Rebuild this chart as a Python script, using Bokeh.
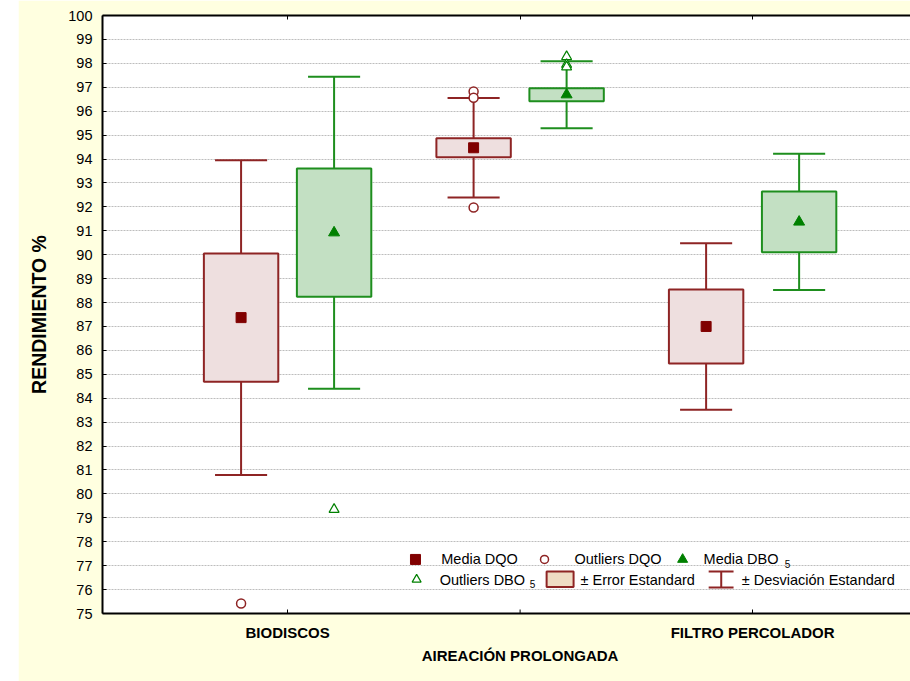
from bokeh.plotting import figure
from bokeh.models import ColumnDataSource, LinearAxis, FixedTicker, Range1d
from bokeh.core.properties import value
from bokeh.embed import file_html
from bokeh.resources import INLINE

# ---- data -------------------------------------------------------------
categories = ["BIODISCOS", "AIREACIÓN PROLONGADA", "FILTRO PERCOLADOR"]

dqo_mean = [87.37, 94.47, 87.00]
dqo_se = [2.68, 0.40, 1.55]
dqo_sd = [6.58, 2.08, 3.48]

dbo_mean = [90.92, 96.69, 91.37]
dbo_se = [2.68, 0.27, 1.27]
dbo_sd = [6.52, 1.40, 2.85]

dqo_outlier_cat = [0, 1, 1, 1]
dqo_outlier_val = [75.42, 96.82, 96.56, 91.97]
dbo_outlier_cat = [0, 1, 1, 1]
dbo_outlier_val = [79.35, 98.28, 97.95, 97.85]

y_ticks = list(range(75, 101))

# ---- styling ----------------------------------------------------------
FONT = "Liberation Sans"
BG = "#FFFFE0"
DQO_LINE = "#8E2424"
DQO_FILL = "#EEDFDF"
DQO_MARK = "#800000"
DBO_LINE = "#1E8E1E"
DBO_FILL = "#C3E0C3"
DBO_MARK = "#008000"

OFFSET = 0.2       # series offset from category centre
BOX_HALF = 0.16    # half width of the +/- SE box
CAP_HALF = 0.112   # half width of the +/- SD caps
Y_MIN, Y_MAX = 75, 100
TICK_LEN = 4 * (Y_MAX - Y_MIN) / 598   # 4 px inward tick, in data units


def series_source(means, ses, sds, shift):
    xs = [i + shift for i in range(len(means))]
    return ColumnDataSource(dict(
        x=xs,
        left=[x - BOX_HALF for x in xs],
        right=[x + BOX_HALF for x in xs],
        cap_l=[x - CAP_HALF for x in xs],
        cap_r=[x + CAP_HALF for x in xs],
        mean=means,
        se_hi=[m + s for m, s in zip(means, ses)],
        se_lo=[m - s for m, s in zip(means, ses)],
        sd_hi=[m + s for m, s in zip(means, sds)],
        sd_lo=[m - s for m, s in zip(means, sds)],
    ))


p = figure(
    width=892, height=681,
    x_range=Range1d(-0.796, 2.679),
    y_range=Range1d(Y_MIN, Y_MAX),
    output_backend="svg", toolbar_location=None,
    x_axis_location=None,
    min_border_left=84, min_border_right=0,
    min_border_top=15, min_border_bottom=68,
)
p.margin = (0, 0, 0, 18)
p.background_fill_color = "white"
p.border_fill_color = BG
p.outline_line_color = None

# grid
p.xgrid.visible = False
p.ygrid.ticker = FixedTicker(ticks=y_ticks[1:-1])
p.ygrid.grid_line_color = "#BDBDBD"
p.ygrid.grid_line_dash = "2 1"
p.ygrid.grid_line_width = 1

# y axis
ya = p.yaxis[0]
ya.ticker = FixedTicker(ticks=y_ticks)
ya.axis_label = "RENDIMIENTO %"
ya.axis_label_text_font = FONT
ya.axis_label_text_font_style = "bold"
ya.axis_label_text_font_size = "19.5px"
ya.axis_label_text_color = "black"
ya.axis_label_standoff = 15
ya.major_label_text_font = FONT
ya.major_label_text_font_size = "14.5px"
ya.major_label_text_color = "black"
ya.major_label_standoff = 10
ya.major_tick_in = 4
ya.major_tick_out = 0
ya.minor_tick_line_color = None
ya.axis_line_width = 2
ya.axis_line_color = "black"
ya.major_tick_line_color = "black"

# category axes: outer labels on the first row, middle label on a second row
ax1 = LinearAxis(
    ticker=FixedTicker(ticks=[0, 2]),
    major_label_overrides={0: categories[0], 2: categories[2]},
)
ax2 = LinearAxis(
    ticker=FixedTicker(ticks=[1]),
    major_label_overrides={1: categories[1]},
)
for ax in (ax1, ax2):
    ax.major_label_text_font = FONT
    ax.major_label_text_font_style = "bold"
    ax.major_label_text_font_size = "15px"
    ax.major_label_text_color = "black"
    ax.minor_tick_line_color = None
ax1.axis_line_width = 2
ax1.axis_line_color = "black"
ax1.major_tick_in = 4
ax1.major_tick_out = 0
ax1.major_label_standoff = 10
ax2.axis_line_color = None
ax2.major_tick_line_color = None
ax2.major_tick_in = 0
ax2.major_tick_out = 0
ax2.major_label_standoff = 3
p.add_layout(ax1, "below")
p.add_layout(ax2, "below")

# middle category tick on the bottom edge
p.segment(x0=[1], y0=[Y_MIN], x1=[1], y1=[Y_MIN + TICK_LEN],
          line_color="black", line_width=1)

# top frame edge with inward category ticks, no labels
top = LinearAxis(ticker=FixedTicker(ticks=[0, 1, 2]))
top.major_label_text_color = None
top.major_label_text_font_size = "1px"
top.major_label_standoff = 0
top.major_tick_in = 4
top.major_tick_out = 0
top.minor_tick_line_color = None
top.axis_line_width = 2
p.add_layout(top, "above")

# ---- boxes and whiskers -----------------------------------------------
for means, ses, sds, shift, lc, fc in (
    (dqo_mean, dqo_se, dqo_sd, -OFFSET, DQO_LINE, DQO_FILL),
    (dbo_mean, dbo_se, dbo_sd, OFFSET, DBO_LINE, DBO_FILL),
):
    src = series_source(means, ses, sds, shift)
    p.segment(x0="x", y0="se_hi", x1="x", y1="sd_hi", source=src,
              line_color=lc, line_width=2)
    p.segment(x0="x", y0="se_lo", x1="x", y1="sd_lo", source=src,
              line_color=lc, line_width=2)
    p.segment(x0="cap_l", y0="sd_hi", x1="cap_r", y1="sd_hi", source=src,
              line_color=lc, line_width=2)
    p.segment(x0="cap_l", y0="sd_lo", x1="cap_r", y1="sd_lo", source=src,
              line_color=lc, line_width=2)
    p.quad(left="left", right="right", bottom="se_lo", top="se_hi", source=src,
           fill_color=fc, line_color=lc, line_width=2)

# means
p.scatter([i - OFFSET for i in range(3)], dqo_mean, marker="square", size=10,
          fill_color=DQO_MARK, line_color=DQO_MARK)
p.scatter([i + OFFSET for i in range(3)], dbo_mean, marker="triangle", size=11,
          fill_color=DBO_MARK, line_color=DBO_MARK)

# outliers
p.scatter([c - OFFSET for c in dqo_outlier_cat], dqo_outlier_val, marker="circle",
          size=9, fill_color="white", line_color=DQO_LINE, line_width=1.5)
p.scatter([c + OFFSET for c in dbo_outlier_cat], dbo_outlier_val, marker="triangle",
          size=10, fill_color="white", line_color=DBO_MARK, line_width=1.2)

# ---- legend ------------------------------------------------------------
row1, row2 = 77.26, 76.42
text_kw = dict(text_font=value(FONT), text_font_size="14.5px",
               text_baseline="middle", text_align="left", text_color="black")
sub_kw = dict(text_font=value(FONT), text_font_size="10px",
              text_baseline="middle", text_align="left", text_color="black")

p.scatter([0.550], [row1], marker="square", size=10,
          fill_color=DQO_MARK, line_color=DQO_MARK)
p.text([0.661], [row1], text=["Media DQO"], **text_kw)
p.scatter([1.105], [row1], marker="circle", size=8,
          fill_color="white", line_color=DQO_LINE, line_width=1.5)
p.text([1.234], [row1], text=["Outliers DQO"], **text_kw)
p.scatter([1.699], [row1], marker="triangle", size=10,
          fill_color=DBO_MARK, line_color=DBO_MARK)
p.text([1.789], [row1], text=["Media DBO"], **text_kw)
p.text([2.138], [row1 - 0.2], text=["5"], **sub_kw)

p.scatter([0.555], [row2], marker="triangle", size=9,
          fill_color="white", line_color=DBO_MARK, line_width=1.2)
p.text([0.654], [row2], text=["Outliers DBO"], **text_kw)
p.text([1.041], [row2 - 0.2], text=["5"], **sub_kw)
p.quad(left=[1.114], right=[1.230], bottom=[76.11], top=[76.76],
       fill_color="#EFDCC4", line_color=DQO_LINE, line_width=2)
p.text([1.260], [row2], text=["± Error Estandard"], **text_kw)
p.segment(x0=[1.811, 1.865, 1.811], y0=[76.76, 76.76, 76.09],
          x1=[1.918, 1.865, 1.918], y1=[76.76, 76.09, 76.09],
          line_color=DQO_LINE, line_width=2)
p.text([1.953], [row2], text=["± Desviación Estandard"], **text_kw)

open("out.html", "w").write(file_html(p, INLINE))
